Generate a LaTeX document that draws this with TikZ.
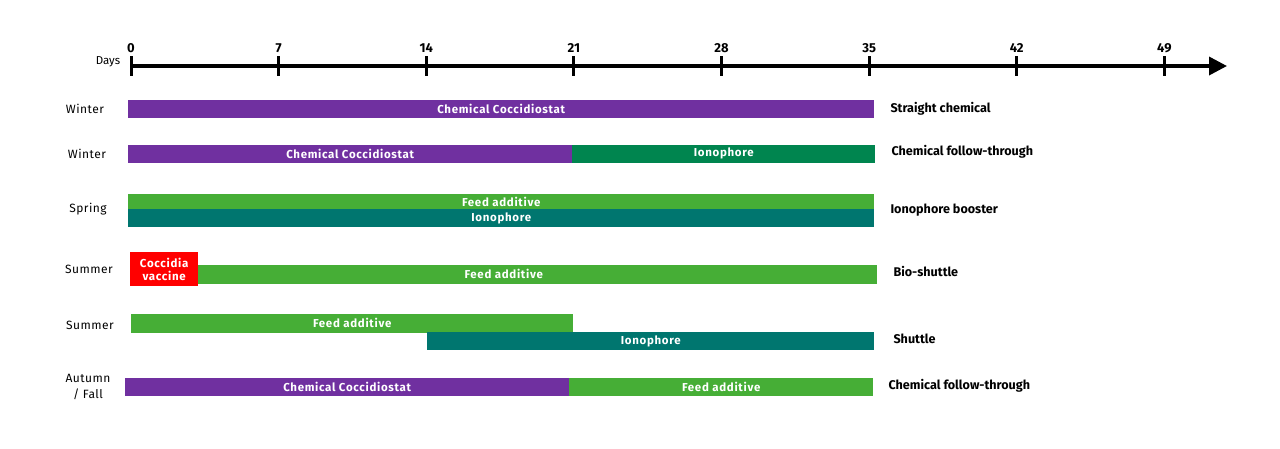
\documentclass[tikz,border=0pt]{standalone}
\usepackage{fontspec}
\setmainfont{Fira Sans}
\usepackage{tikz}
\usetikzlibrary{arrows.meta}

\definecolor{chempurple}{HTML}{7030A0}
\definecolor{ionogreen}{HTML}{00854F}
\definecolor{feedgreen}{HTML}{46AE36}
\definecolor{ionoteal}{HTML}{00766F}
\definecolor{vacred}{HTML}{FF0000}

\tikzset{
	bar/.style={anchor=west, inner sep=0pt, minimum height=18pt, text=white, font=\bfseries\fontsize{11.5}{13}\selectfont\addfontfeatures{LetterSpace=6}},
	season/.style={align=center, font=\fontsize{12}{16}\selectfont\addfontfeatures{LetterSpace=4}},
	program/.style={anchor=west, font=\bfseries\fontsize{12.6}{13}\selectfont},
	daylabel/.style={font=\bfseries\fontsize{13}{13}\selectfont}
}

\begin{document}
\begin{tikzpicture}[x=1pt, y=-1pt]

\useasboundingbox (0,0) rectangle (1280,448);

% time axis
\node[font=\fontsize{11.5}{12}\selectfont] (days) at (108,62) {Days};
\draw[line width=3.5pt, -{Triangle[length=18pt, width=18pt]}] (130,66) -- (1227,66);
\foreach \d in {0,7,...,49}{
	\draw[line width=3pt] (131+\d*21.09,56) -- (131+\d*21.09,76);
	\node[daylabel] (t\d) at (131+\d*21.09,48) {\d};
}

% seasons
\node[season] (s1) at (85,109) {Winter};
\node[season] (s2) at (87,154) {Winter};
\node[season] (s3) at (88,209) {Spring};
\node[season] (s4) at (89,269) {Summer};
\node[season] (s5) at (90,325) {Summer};
\node[season] (s6) at (88,387) {Autumn\\/ Fall};

% programs
\node[bar, fill=chempurple, minimum width=746pt] (r1a) at (128,108.5) {Chemical Coccidiostat};

\node[bar, fill=chempurple, minimum width=444pt] (r2a) at (128,153.5) {Chemical Coccidiostat};
\node[bar, fill=ionogreen, minimum width=303pt] (r2b) at (572,153.5) {Ionophore};

\node[bar, fill=feedgreen, minimum width=746pt, minimum height=16pt] (r3a) at (128,202) {Feed additive};
\node[bar, fill=ionoteal, minimum width=746pt] (r3b) at (128,218) {Ionophore};

\node[bar, fill=feedgreen, minimum width=747pt, minimum height=19pt] (r4b) at (130,274) {Feed additive};
\node[bar, fill=vacred, minimum width=68pt, minimum height=34pt, align=center] (r4a) at (130,269) {Coccidia\\vaccine};

\node[bar, fill=feedgreen, minimum width=442pt, minimum height=19pt] (r5a) at (131,323) {Feed additive};
\node[bar, fill=ionoteal, minimum width=447pt] (r5b) at (427,341) {Ionophore};

\node[bar, fill=chempurple, minimum width=444pt] (r6a) at (125,387) {Chemical Coccidiostat};
\node[bar, fill=feedgreen, minimum width=304pt] (r6b) at (569,387) {Feed additive};

% program names
\node[program] (p1) at (887,109) {Straight chemical};
\node[program] (p2) at (888,152) {Chemical follow-through};
\node[program] (p3) at (887,210) {Ionophore booster};
\node[program] (p4) at (890,271) {Bio-shuttle};
\node[program] (p5) at (890,339) {Shuttle};
\node[program] (p6) at (885,386) {Chemical follow-through};

\end{tikzpicture}
\end{document}
